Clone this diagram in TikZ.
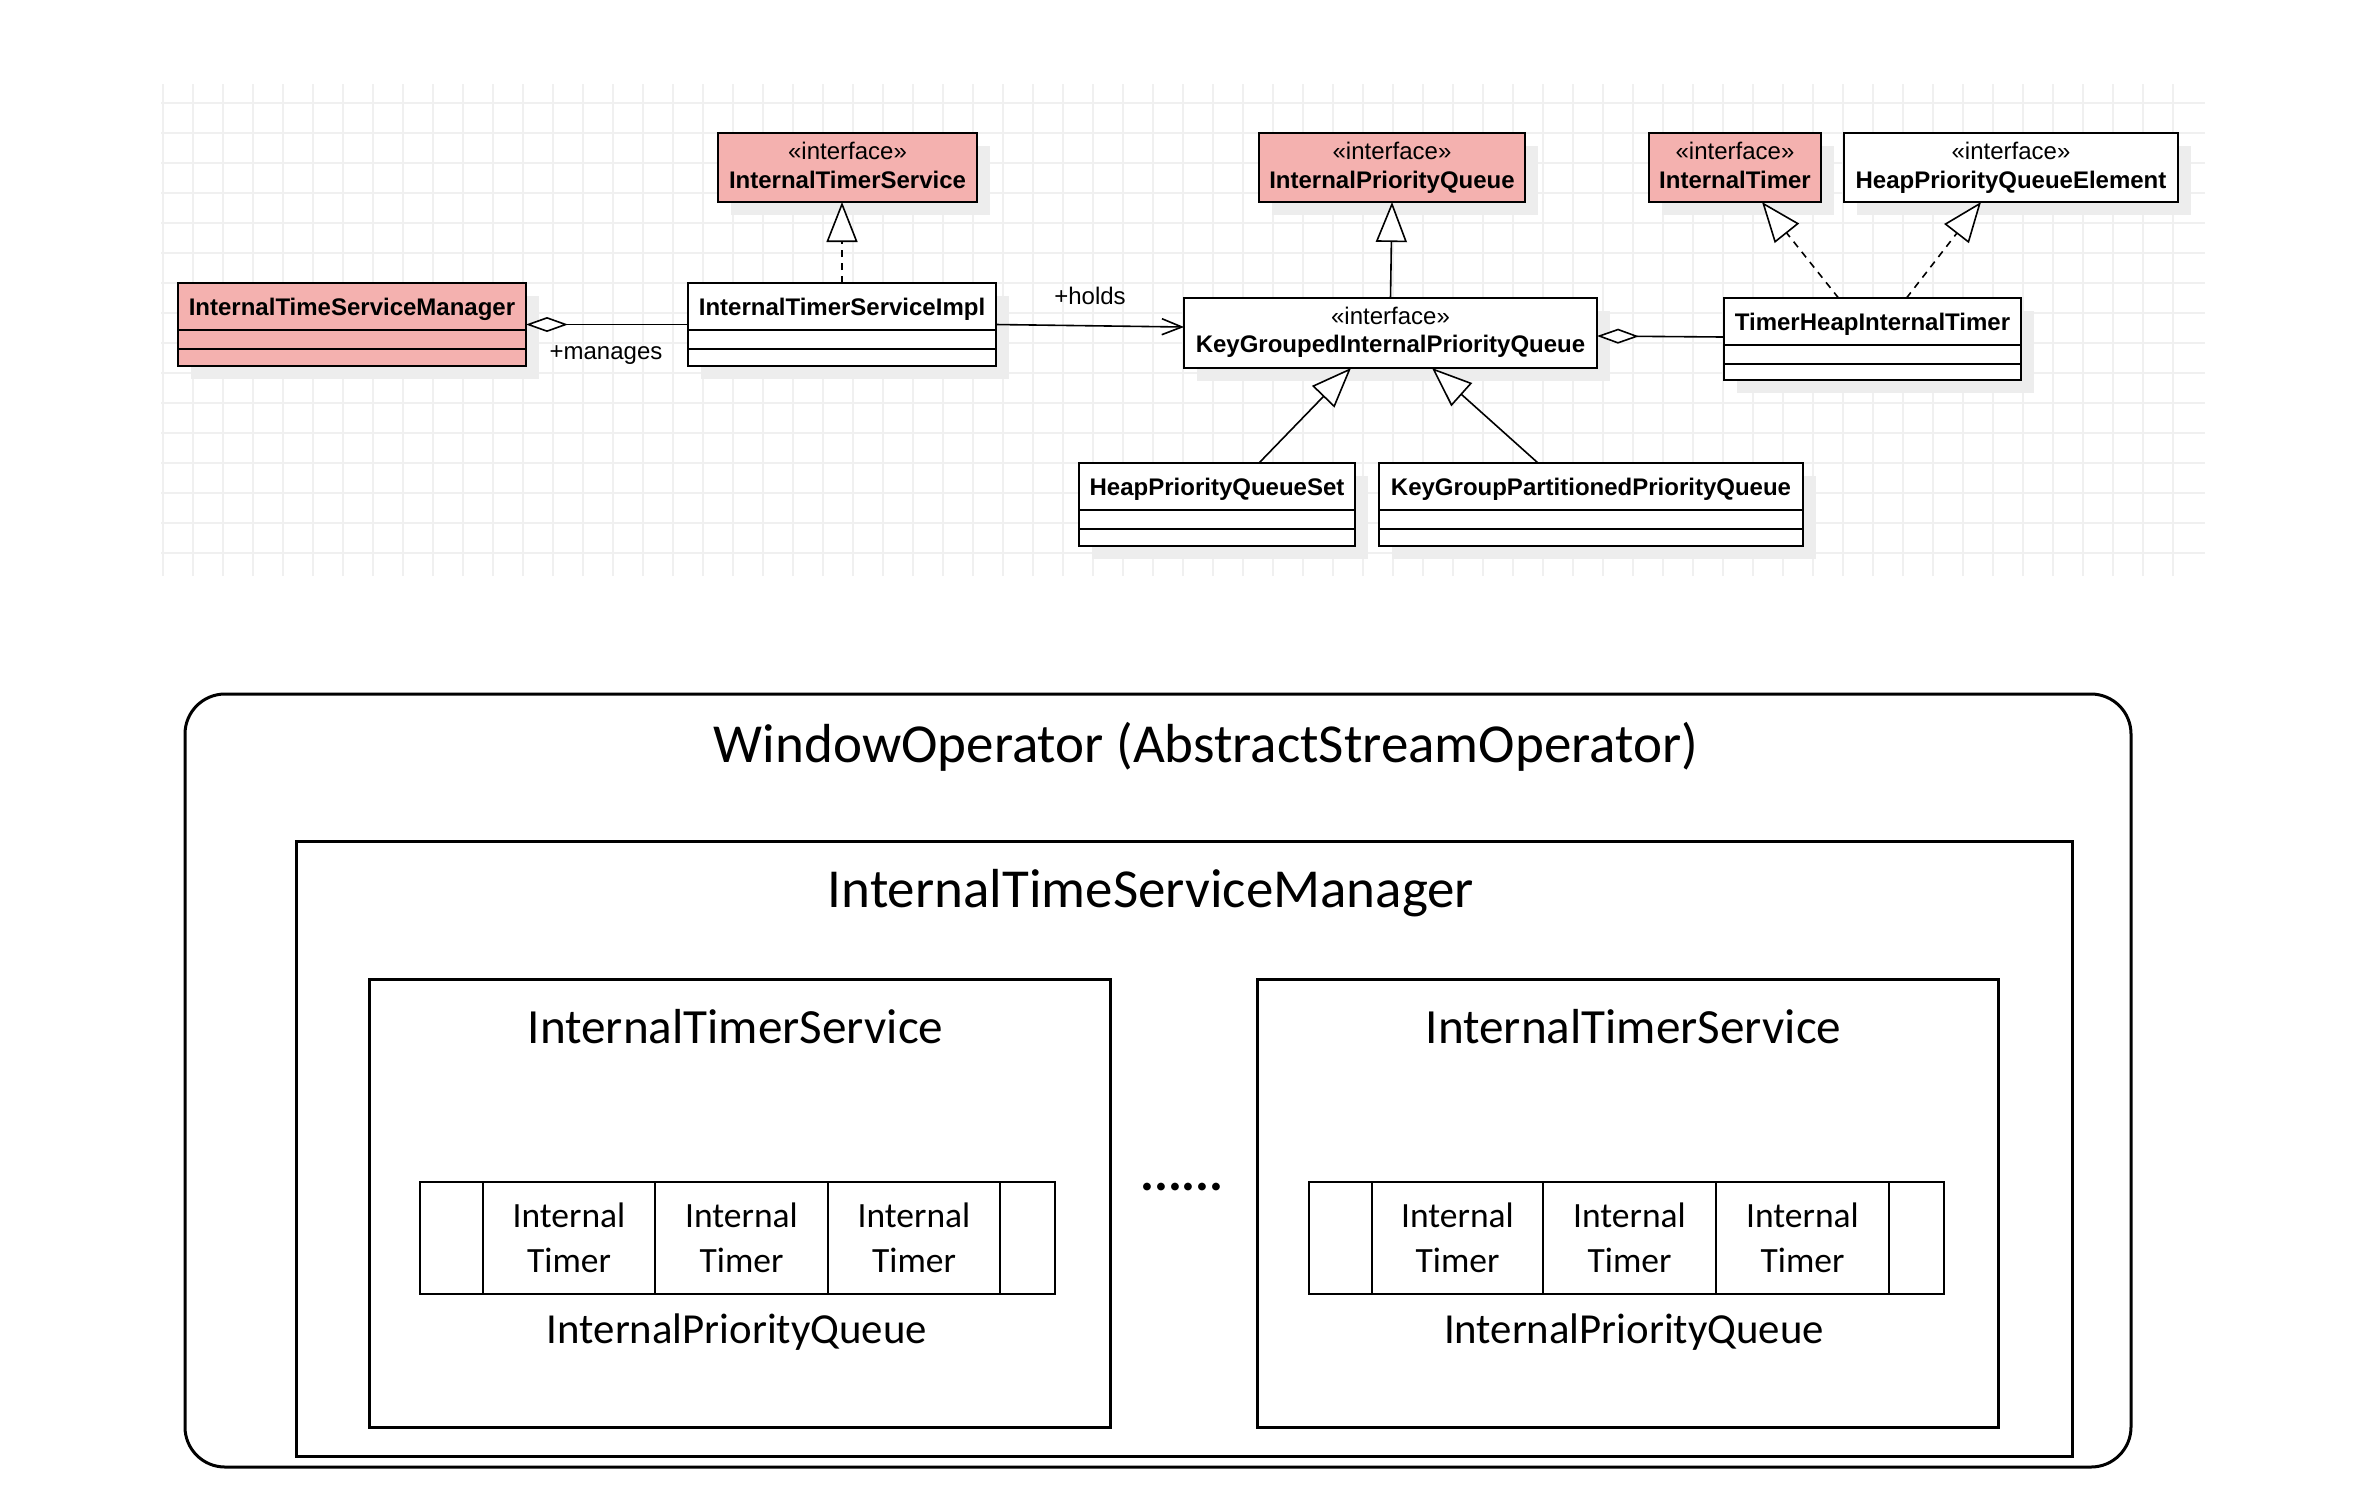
\documentclass[tikz,border=0pt]{standalone}
\usepackage{fontspec}
\setmainfont{Liberation Sans}
\newfontfamily\calfont{Carlito}
\usetikzlibrary{arrows.meta,calc,shadows}
\definecolor{umlpink}{RGB}{244,177,175}
\definecolor{gridgray}{RGB}{240,240,240}
\newcommand\umlrows[3]{%
  \draw[umlline] ($(#1.north west)+(0,#2)$) -- ($(#1.north east)+(0,#2)$);
  \draw[umlline] ($(#1.north west)+(0,#3)$) -- ($(#1.north east)+(0,#3)$);}
\begin{document}
\begin{tikzpicture}[x=0.5pt,y=-0.5pt,
  umlbox/.style={draw, line width=1pt, inner sep=0pt, outer sep=0pt, anchor=north west, fill=white,
    drop shadow={shadow xshift=6.5pt, shadow yshift=-6.5pt, fill=black!7, opacity=1}},
  pinkbox/.style={umlbox, fill=umlpink},
  umlline/.style={line width=1pt},
  umltext/.style={font=\fontsize{12pt}{14pt}\selectfont, inner sep=0pt, anchor=base},
  umlname/.style={font=\fontsize{12pt}{14pt}\selectfont\bfseries, inner sep=0pt, anchor=base},
  conn/.style={line width=0.8pt},
  realize/.style={conn, dash pattern=on 3.5pt off 3pt, -{Triangle[length=20pt, width=15.5pt, fill=white]}},
  general/.style={conn, -{Triangle[length=20pt, width=15.5pt, fill=white]}},
  aggr/.style={conn, -{Diamond[length=21pt, width=7.5pt, fill=white]}},
  assoc/.style={conn, -{Straight Barb[length=10pt, width=8pt]}},
  bigbox/.style={draw, line width=1.5pt, inner sep=0pt, outer sep=0pt, anchor=north west},
  cell/.style={draw, line width=1.4pt, inner sep=0pt, outer sep=0pt, anchor=north west,
    minimum height=56pt, align=center, font=\calfont\fontsize{17.75pt}{22.5pt}\selectfont},
  titletext/.style={font=\calfont\fontsize{27.5pt}{33pt}\selectfont, inner sep=0pt, anchor=base},
  svctext/.style={font=\calfont\fontsize{24.6pt}{30pt}\selectfont, inner sep=0pt, anchor=base},
  pqtext/.style={font=\calfont\fontsize{21.4pt}{26pt}\selectfont, inner sep=0pt, anchor=base}]
\useasboundingbox (0,0) rectangle (2356,1496);
\fill[white] (0,0) rectangle (2356,1496);
% grid
\foreach \i in {0,...,67} \draw[gridgray, line width=0.6pt] ({163+30*\i},84) -- ({163+30*\i},576);
\foreach \j in {0,...,15} \draw[gridgray, line width=0.6pt] (161,{103+30*\j}) -- (2205,{103+30*\j});

% ---------- UML classes ----------
\node[pinkbox, minimum width=129.5pt, minimum height=34.5pt] (its) at (718,133) {};
\node[umltext] (its-s) at ($(its.north)+(0,26.5)$) {«interface»};
\node[umlname] (its-n) at ($(its.north)+(0,55)$) {InternalTimerService};

\node[pinkbox, minimum width=174pt, minimum height=41.5pt] (mgr) at (178,283) {};
\node[umlname] (mgr-n) at ($(mgr.north)+(0,32)$) {InternalTimeServiceManager};
\umlrows{mgr}{47}{66}

\node[umlbox, minimum width=154pt, minimum height=41.5pt] (impl) at (688,283) {};
\node[umlname] (impl-n) at ($(impl.north)+(0,32)$) {InternalTimerServiceImpl};
\umlrows{impl}{47}{66}

\node[pinkbox, minimum width=133pt, minimum height=34.5pt] (ipq) at (1259,133) {};
\node[umltext] (ipq-s) at ($(ipq.north)+(0,26.5)$) {«interface»};
\node[umlname] (ipq-n) at ($(ipq.north)+(0,55)$) {InternalPriorityQueue};

\node[umlbox, minimum width=206.5pt, minimum height=35pt] (kgipq) at (1184,298) {};
\node[umltext] (kgipq-s) at ($(kgipq.north)+(0,26)$) {«interface»};
\node[umlname] (kgipq-n) at ($(kgipq.north)+(0,54)$) {KeyGroupedInternalPriorityQueue};

\node[pinkbox, minimum width=86pt, minimum height=34.5pt] (itimer) at (1649,133) {};
\node[umltext] (itimer-s) at ($(itimer.north)+(0,26.5)$) {«interface»};
\node[umlname] (itimer-n) at ($(itimer.north)+(0,55)$) {InternalTimer};

\node[umlbox, minimum width=167pt, minimum height=34.5pt] (hpqe) at (1844,133) {};
\node[umltext] (hpqe-s) at ($(hpqe.north)+(0,26.5)$) {«interface»};
\node[umlname] (hpqe-n) at ($(hpqe.north)+(0,55)$) {HeapPriorityQueueElement};

\node[umlbox, minimum width=148.5pt, minimum height=41pt] (thit) at (1724,298) {};
\node[umlname] (thit-n) at ($(thit.north)+(0,32)$) {TimerHeapInternalTimer};
\umlrows{thit}{47}{66}

\node[umlbox, minimum width=138pt, minimum height=41.5pt] (hpqs) at (1079,463) {};
\node[umlname] (hpqs-n) at ($(hpqs.north)+(0,32)$) {HeapPriorityQueueSet};
\umlrows{hpqs}{47}{66}

\node[umlbox, minimum width=212pt, minimum height=41.5pt] (kgppq) at (1379,463) {};
\node[umlname] (kgppq-n) at ($(kgppq.north)+(0,32)$) {KeyGroupPartitionedPriorityQueue};
\umlrows{kgppq}{47}{66}

% ---------- UML connectors ----------
\draw[aggr] (impl.west) -- (mgr.east);
\node[umltext] (manages) at (606,359) {+manages};
\draw[realize] (impl.north) -- (impl.north |- its.south);
\draw[general] (kgipq.north) -- (ipq.south);
\draw[assoc] (impl.east) -- ($(kgipq.west)+(0,-6)$);
\node[umltext] (holds) at (1090,304) {+holds};
\draw[aggr] ($(thit.west)+(0,-2)$) -- ($(kgipq.east)+(0,3)$);
\draw[realize] ($(thit.north)+(-34,0)$) -- ($(itimer.south)+(27,0)$);
\draw[realize] ($(thit.north)+(34,0)$) -- ($(hpqe.south)+(-30,0)$);
\draw[general] ($(hpqs.north)+(42,0)$) -- ($(kgipq.south)+(-39.5,0)$);
\draw[general] ($(kgppq.north)+(-53,0)$) -- ($(kgipq.south)+(41.5,0)$);

% ---------- bottom structure ----------
\node[bigbox, rounded corners=20pt, minimum width=973pt, minimum height=386.5pt] (wop) at (185,694) {};
\node[titletext] (wop-t) at (1206,762) {WindowOperator (AbstractStreamOperator)};
\node[bigbox, minimum width=888pt, minimum height=307.5pt] (itsm) at (296,841) {};
\node[titletext] (itsm-t) at (1151,907) {InternalTimeServiceManager};

\node[bigbox, minimum width=370.5pt, minimum height=224pt] (its1) at (369,979) {};
\node[svctext] (its1-t) at (735.5,1043) {InternalTimerService};
\node[bigbox, minimum width=370.5pt, minimum height=224pt] (its2) at (1257,979) {};
\node[svctext] (its2-t) at (1633.5,1043) {InternalTimerService};

\node[cell, minimum width=31.5pt] (q1a) at (420,1182) {};
\node[cell, minimum width=86pt] (q1b) at (q1a.north east) {Internal\\Timer};
\node[cell, minimum width=86.5pt] (q1c) at (q1b.north east) {Internal\\Timer};
\node[cell, minimum width=86pt] (q1d) at (q1c.north east) {Internal\\Timer};
\node[cell, minimum width=27.5pt] (q1e) at (q1d.north east) {};
\node[pqtext] (pq1) at (737,1343) {InternalPriorityQueue};

\node[cell, minimum width=31.5pt] (q2a) at (1309,1182) {};
\node[cell, minimum width=85.5pt] (q2b) at (q2a.north east) {Internal\\Timer};
\node[cell, minimum width=86.5pt] (q2c) at (q2b.north east) {Internal\\Timer};
\node[cell, minimum width=86.5pt] (q2d) at (q2c.north east) {Internal\\Timer};
\node[cell, minimum width=27.5pt] (q2e) at (q2d.north east) {};
\node[pqtext] (pq2) at (1634,1343) {InternalPriorityQueue};

\node[font=\calfont\bfseries\fontsize{26pt}{26pt}\selectfont, inner sep=0pt] (dots) at (1182,1187) {......};
\end{tikzpicture}
\end{document}
